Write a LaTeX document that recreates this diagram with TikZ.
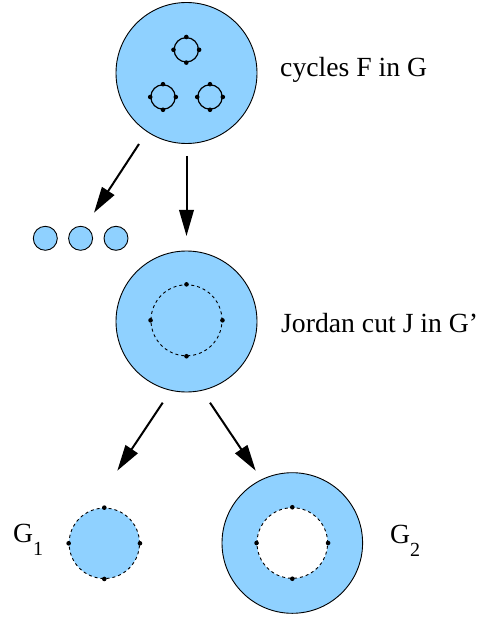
\documentclass[tikz,border=0pt]{standalone}
\usepackage{fontspec}
\setmainfont{Liberation Serif}
\usetikzlibrary{arrows.meta}
\definecolor{fillblue}{RGB}{143,209,255}
\begin{document}
\begin{tikzpicture}[x=1pt,y=-1pt,
  big/.style={circle, draw, line width=0.9pt, fill=fillblue, minimum size=141pt, inner sep=0pt},
  cyc/.style={circle, draw, line width=1.2pt, minimum size=24.4pt, inner sep=0pt},
  small/.style={circle, draw, line width=0.9pt, fill=fillblue, minimum size=24pt, inner sep=0pt},
  cut/.style={circle, draw, line width=0.9pt, dash pattern=on 3pt off 3pt, minimum size=71pt, inner sep=0pt},
  lbl/.style={font=\fontsize{27.7}{33}\selectfont, anchor=base west, inner sep=0pt},
  arr/.style={-{Triangle[length=26pt,width=14.5pt]}, line width=2pt},
  dotr/.style={fill=black}]
\useasboundingbox (0,0) rectangle (482,617);

% top: cycles F in G
\node[big] (top) at (186.5,73) {};
\node[cyc] (c1) at (186.3,49.8) {};
\node[cyc] (c2) at (163,97) {};
\node[cyc] (c3) at (210,97) {};
\foreach \c in {c1,c2,c3}{
  \foreach \a in {north,south,east,west}{\fill[dotr] (\c.\a) circle (2.3pt);}
}
\node[lbl] (t1) at (280,76.5) {cycles F in G};

% three small circles
\node[small] (s1) at (45.3,238.3) {};
\node[small] (s2) at (80.6,238.3) {};
\node[small] (s3) at (116,238.3) {};

% middle: Jordan cut
\node[big] (mid) at (186.5,321.5) {};
\node[cut] (j) at (186.5,320.3) {};
\foreach \a in {north,south,east,west}{\fill[dotr] (j.\a) circle (2.3pt);}
\node[lbl] (t2) at (281,332) {Jordan cut J in G'};

% bottom left: G1
\node[cut, fill=fillblue, minimum size=70.4pt] (g1c) at (104.3,543.3) {};
\foreach \a in {north,south,east,west}{\fill[dotr] (g1c.\a) circle (2.3pt);}
\node[lbl] (g1) at (13,542) {G\raisebox{-13.4pt}{\fontsize{20}{20}\selectfont 1}};

% bottom right: G2
\node[big, minimum size=140.6pt] (g2o) at (292.3,543) {};
\node[cut, fill=white, minimum size=70.6pt] (g2i) at (292.3,543) {};
\foreach \a in {north,south,east,west}{\fill[dotr] (g2i.\a) circle (2.3pt);}
\node[lbl] (g2) at (390,543.3) {G\raisebox{-13.4pt}{\fontsize{20}{20}\selectfont 2}};

% arrows
\coordinate (a1s) at (139,144);
\coordinate (a1e) at (94,212.7);
\coordinate (a2s) at (186.5,156);
\coordinate (a2e) at (186.5,236);
\coordinate (a3s) at (162.7,402.7);
\coordinate (a3e) at (117.3,470.7);
\coordinate (a4s) at (210,402.7);
\coordinate (a4e) at (255.7,470.7);
\draw[arr] (a1s) -- (a1e);
\draw[arr] (a2s) -- (a2e);
\draw[arr] (a3s) -- (a3e);
\draw[arr] (a4s) -- (a4e);
\end{tikzpicture}
\end{document}
